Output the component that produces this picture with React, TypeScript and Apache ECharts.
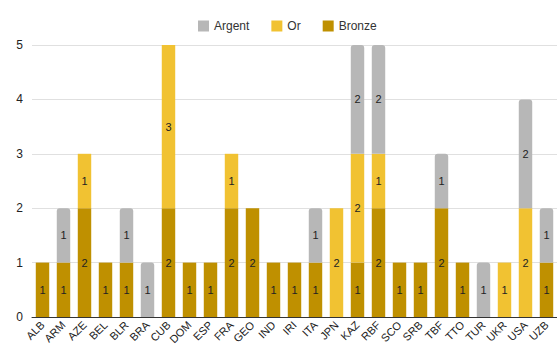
import React, { useEffect, useRef } from "react";
import * as echarts from "echarts";

const categories = ["ALB","ARM","AZE","BEL","BLR","BRA","CUB","DOM","ESP","FRA","GEO","IND","IRI","ITA","JPN","KAZ","RBF","SCO","SRB","TBF","TTO","TUR","UKR","USA","UZB"];
const bronze = [1,1,2,1,1,0,2,1,1,2,2,1,1,1,0,1,2,1,1,2,1,0,0,0,1];
const gold =   [0,0,1,0,0,0,3,0,0,1,0,0,0,0,2,2,1,0,0,0,0,0,1,2,0];
const silver = [0,1,0,0,1,1,0,0,0,0,0,0,0,1,0,2,2,0,0,1,0,1,0,2,1];
const yTicks = [0, 1, 2, 3, 4, 5];

export default function App() {
  const ref = useRef<HTMLDivElement>(null);
  useEffect(() => {
    if (!ref.current) return;
    const chart = echarts.init(ref.current, null, { renderer: "svg" });
    const label = {
      show: true,
      position: "inside" as const,
      fontSize: 11,
      color: "#222",
      fontFamily: "Liberation Sans, Arial, sans-serif",
      formatter: (p: any) => (p.value ? String(p.value) : ""),
    };
    chart.setOption({
      animation: false,
      textStyle: { fontFamily: "Liberation Sans, Arial, sans-serif" },
      legend: {
        top: 15,
        left: 193,
        itemWidth: 11,
        itemHeight: 11,
        itemGap: 22,
        icon: "rect",
        textStyle: { fontSize: 12, color: "#333" },
        data: ["Argent", "Or", "Bronze"],
      },
      grid: { left: 32, right: 0, top: 45, bottom: 32, containLabel: false },
      xAxis: {
        type: "category",
        data: categories,
        axisTick: { show: false },
        axisLine: { lineStyle: { color: "#333", width: 1 } },
        axisLabel: { rotate: 45, fontSize: 11, color: "#222", margin: 6, interval: 0 },
      },
      yAxis: {
        type: "value",
        min: yTicks[0],
        max: yTicks[yTicks.length - 1],
        interval: 1,
        axisLabel: { fontSize: 12, color: "#222", margin: 9 },
        splitLine: { lineStyle: { color: "#e0e0e0" } },
        axisLine: { show: false },
        axisTick: { show: false },
      },
      series: [
        { name: "Bronze", type: "bar", stack: "m", data: bronze, barWidth: "64%", itemStyle: { color: "#bf9000" }, label },
        { name: "Or", type: "bar", stack: "m", data: gold, itemStyle: { color: "#f1c232" }, label },
        { name: "Argent", type: "bar", stack: "m", data: silver, itemStyle: { color: "#b7b7b7", borderRadius: [3, 3, 0, 0] }, label },
      ],
    });
    return () => chart.dispose();
  }, []);
  return <div ref={ref} style={{ width: 557, height: 349, position: "absolute", left: 0, top: 0 }} />;
}
